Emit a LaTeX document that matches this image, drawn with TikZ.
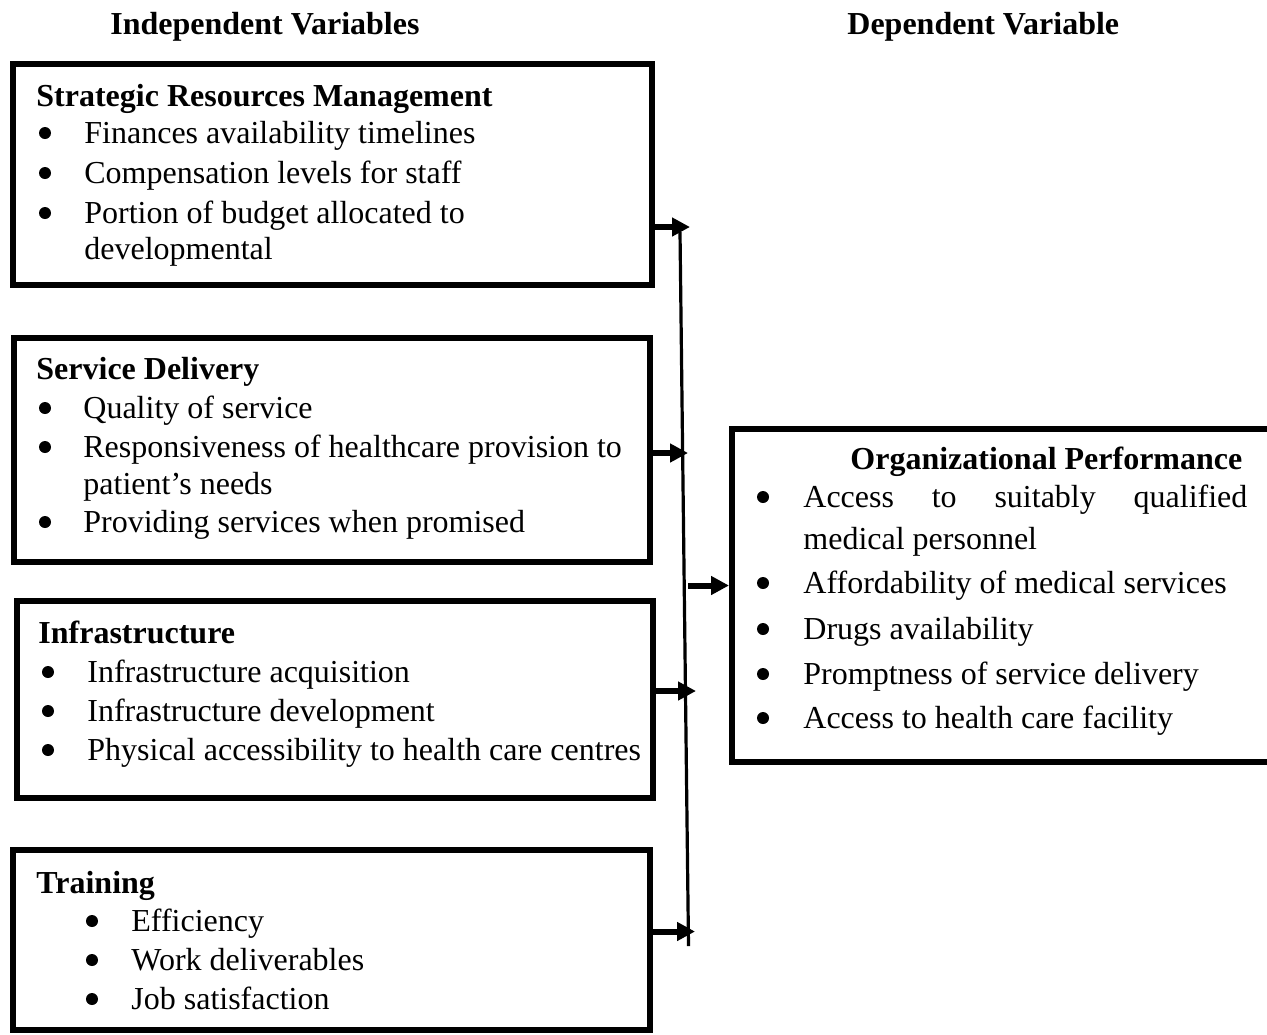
\documentclass[tikz,border=0pt]{standalone}
\usepackage{fontspec}
\setmainfont{Liberation Serif}
\usetikzlibrary{arrows.meta,fit}
\begin{document}
\begin{tikzpicture}[x=0.5pt,y=-0.5pt,
  box/.style={draw,line width=3pt,inner sep=0pt,rectangle},
  txt/.style={anchor=base west,inner sep=0pt,font=\fontsize{16}{20}\selectfont},
  hd/.style={anchor=base west,inner sep=0pt,font=\fontsize{16}{20}\selectfont\bfseries},
  bul/.style={circle,fill,draw=none,inner sep=0pt,minimum size=6pt},
  link/.style={line width=3pt,-{Triangle[length=9pt,width=9pt]}},
  rail/.style={line width=1.6pt}]
\useasboundingbox (0,0) rectangle (1267,1034);

% headers
\node[hd] (hInd) at (110,34) {Independent Variables};
\node[hd] (hDep) at (847,34) {Dependent Variable};

% boxes
\node[box,fit={(13,64) (652,285)}] (b1) {};
\node[box,fit={(14,338) (650,562)}] (b2) {};
\node[box,fit={(17,601) (653,798)}] (b3) {};
\node[box,fit={(13,850) (650,1030)}] (b4) {};
\node[box,fit={(732,429) (1273,762)}] (b5) {};

% box 1
\node[hd] (t1) at (36,106) {Strategic Resources Management};
\node[bul] (d11) at (45,133) {};
\node[txt] (t11) at (84,143) {Finances availability timelines};
\node[bul] (d12) at (45,173) {};
\node[txt] (t12) at (84,183) {Compensation levels for staff};
\node[bul] (d13) at (45,213) {};
\node[txt] (t13) at (84,223) {Portion of budget allocated to};
\node[txt] (t13b) at (84,259) {developmental};

% box 2
\node[hd] (t2) at (36,379) {Service Delivery};
\node[bul] (d21) at (45,408) {};
\node[txt] (t21) at (83,418) {Quality of service};
\node[bul] (d22) at (45,447) {};
\node[txt] (t22) at (83,457) {Responsiveness of healthcare provision to};
\node[txt] (t22b) at (83,494) {patient’s needs};
\node[bul] (d23) at (45,522) {};
\node[txt] (t23) at (83,532) {Providing services when promised};

% box 3
\node[hd] (t3) at (38,643) {Infrastructure};
\node[bul] (d31) at (48,672) {};
\node[txt] (t31) at (87,682) {Infrastructure acquisition};
\node[bul] (d32) at (48,711) {};
\node[txt] (t32) at (87,721) {Infrastructure development};
\node[bul] (d33) at (48,750) {};
\node[txt] (t33) at (87,760) {Physical accessibility to health care centres};

% box 4
\node[hd] (t4) at (36,893) {Training};
\node[bul] (d41) at (92,921) {};
\node[txt] (t41) at (131,931) {Efficiency};
\node[bul] (d42) at (92,960) {};
\node[txt] (t42) at (131,970) {Work deliverables};
\node[bul] (d43) at (92,999) {};
\node[txt] (t43) at (131,1009) {Job satisfaction};

% box 5
\node[hd] (t5) at (850,469) {Organizational Performance};
\node[bul] (d51) at (763,497) {};
\node[txt] (t51) at (803,507) {\makebox[222pt][s]{Access to suitably qualified}};
\node[txt] (t51b) at (803,549) {medical personnel};
\node[bul] (d52) at (763,583) {};
\node[txt] (t52) at (803,593) {Affordability of medical services};
\node[bul] (d53) at (763,629) {};
\node[txt] (t53) at (803,639) {Drugs availability};
\node[bul] (d54) at (763,674) {};
\node[txt] (t54) at (803,684) {Promptness of service delivery};
\node[bul] (d55) at (763,718) {};
\node[txt] (t55) at (803,728) {Access to health care facility};

% connector points
\coordinate (j1) at (690,227);
\coordinate (j2) at (688,453);
\coordinate (j3) at (696,691);
\coordinate (j4) at (695,931.5);
\coordinate (vtop) at (680,232);
\coordinate (vbot) at (688.5,946);
\coordinate (vout) at (688,585.5);

\draw[rail] (vtop) -- (vbot);
\draw[link] (b1.east |- j1) -- (j1);
\draw[link] (b2.east |- j2) -- (j2);
\draw[link] (b3.east |- j3) -- (j3);
\draw[link] (b4.east |- j4) -- (j4);
\draw[link] (vout) -- (b5.west |- vout);
\end{tikzpicture}
\end{document}
